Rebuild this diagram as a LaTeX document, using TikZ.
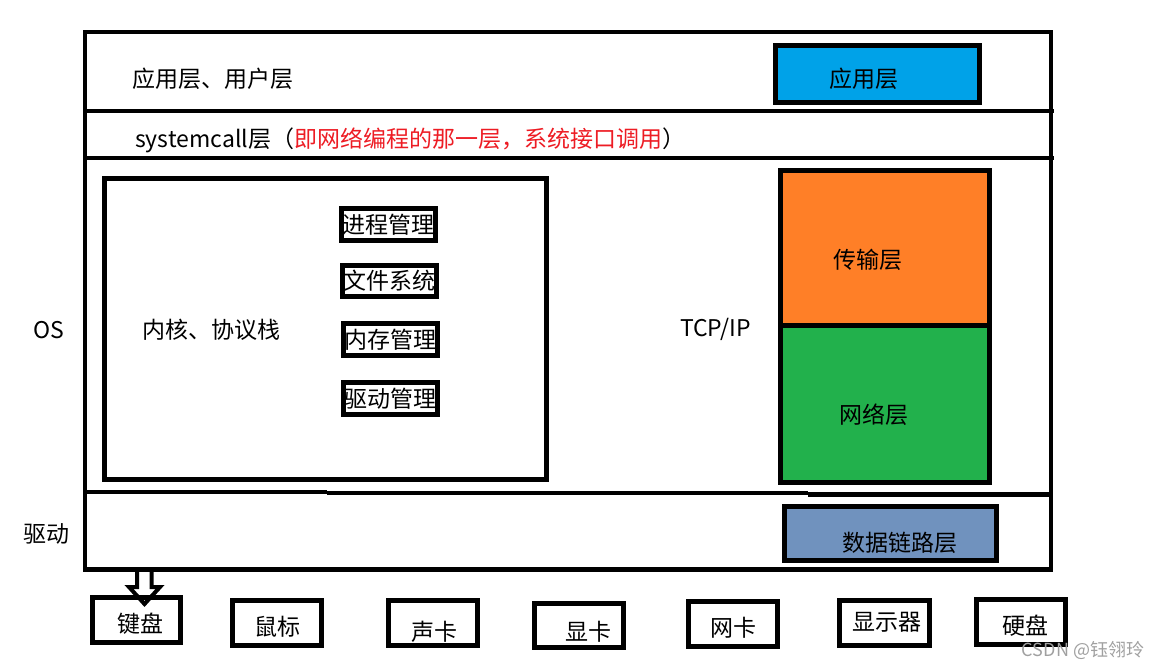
\documentclass[tikz,border=0pt]{standalone}
\usepackage{fontspec}
\setmainfont{Noto Sans CJK SC}
\definecolor{appblue}{HTML}{00A2E8}
\definecolor{tporange}{HTML}{FF7F27}
\definecolor{netgreen}{HTML}{22B14C}
\definecolor{linkblue}{HTML}{7092BE}
\definecolor{notered}{HTML}{ED1C24}
\definecolor{wmgray}{HTML}{A0A0A0}
\begin{document}
\begin{tikzpicture}[x=1pt,y=-1pt,
  txt/.style={inner sep=0pt, font=\fontsize{23}{27}\selectfont},
  frameline/.style={line width=4.5pt},
  box/.style={draw, line width=5pt, inner sep=0pt, outer sep=0pt, font=\fontsize{23}{27}\selectfont},
  kbox/.style={box, minimum width=94pt, minimum height=32pt},
  devbox/.style={box, minimum width=89pt, minimum height=45pt}]
\useasboundingbox (0,0) rectangle (1166,669);

% block arrow (drawn under frame line)
\draw[line width=4pt, line join=miter, line cap=round] (137,569.5) -- (137,587) -- (129,587) -- (144.5,604) -- (160,587) -- (151.5,587) -- (151.5,569.5);

% outer frame and separators
\node[draw, frameline, inner sep=0pt, minimum width=966pt, minimum height=537.5pt] (frame) at (568,300.75) {};
\draw[frameline] (85,111) -- (1054,111);
\draw[frameline] (85,158) -- (1054,158);
\draw[frameline] (85,492) -- (327,492);
\draw[frameline] (327,493) -- (808,493);
\draw[frameline] (808,494.5) -- (1051,494.5);

% application layer row
\node[txt, anchor=west] (user) at (132,79) {应用层、用户层};
\node[box, fill=appblue, minimum width=204pt, minimum height=57pt] (appbox) at (877.5,74) {};
\node[txt] (applbl) at (864,79) {应用层};

% systemcall row
\node[txt, anchor=west] (sys) at (135,140) {systemcall层（\textcolor{notered}{即网络编程的那一层，系统接口调用}）};

% kernel
\node[draw, frameline, inner sep=0pt, minimum width=442pt, minimum height=301pt] (kernel) at (325.5,329) {};
\node[txt, anchor=west] (kernlbl) at (142,330) {内核、协议栈};
\node[kbox] (proc) at (388.5,224.5) {进程管理};
\node[kbox, minimum height=31pt] (fs) at (389.5,281) {文件系统};
\node[kbox] (mem) at (390.5,339.5) {内存管理};
\node[kbox] (drvm) at (390.5,398.5) {驱动管理};

% TCP/IP stack
\node[txt] (tcpip) at (715.5,329) {TCP/IP};
\node[box, fill=tporange, minimum width=209pt, minimum height=155pt] (trans) at (885,248) {};
\node[box, fill=netgreen, minimum width=209pt, minimum height=156.5pt] (net) at (885,403.75) {};
\node[txt] (translbl) at (868,260) {传输层};
\node[txt] (netlbl) at (874,415) {网络层};
\node[box, fill=linkblue, minimum width=212pt, minimum height=54pt] (link) at (890.5,533.5) {};
\node[txt] (linklbl) at (900,543) {数据链路层};

% side labels
\node[txt] (os) at (49,330) {OS};
\node[txt] (drv) at (46,534) {驱动};

% devices
\node[devbox, minimum width=88pt] (kb) at (136.5,620) {};
\node[txt] at (140,624) {键盘};
\node[devbox] (mouse) at (277,623) {};
\node[txt] at (277,627) {鼠标};
\node[devbox] (sound) at (433,623) {};
\node[txt] at (434,632) {声卡};
\node[devbox, minimum height=44pt] (gpu) at (579,625.5) {};
\node[txt] at (588,632) {显卡};
\node[devbox] (nic) at (733,624) {};
\node[txt] at (733,628) {网卡};
\node[devbox, minimum width=90pt] (disp) at (884.5,623) {};
\node[txt] at (887,622) {显示器};
\node[devbox] (hdd) at (1021,622) {};
\node[txt] at (1025,626) {硬盘};

% watermark
\node[inner sep=0pt, text=wmgray, font=\fontsize{18}{22}\selectfont] (wm) at (1083,650) {CSDN @钰翎玲};
\end{tikzpicture}
\end{document}
